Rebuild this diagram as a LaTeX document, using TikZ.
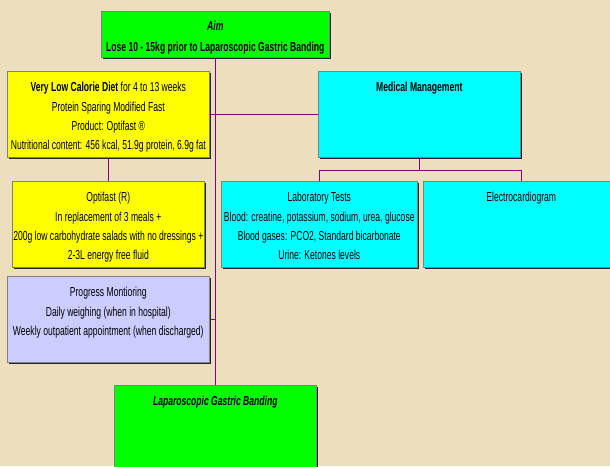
\documentclass[tikz,border=0pt]{standalone}
\usepackage{fontspec}
\setmainfont{Liberation Sans}[FakeStretch=0.66]
\usetikzlibrary{positioning,calc,shadows}
\definecolor{parchment}{RGB}{237,222,190}
\definecolor{aimgreen}{RGB}{0,255,0}
\definecolor{dietyellow}{RGB}{255,255,0}
\definecolor{medcyan}{RGB}{0,255,255}
\definecolor{lavender}{RGB}{204,204,255}
\definecolor{linkpurple}{RGB}{128,0,128}
\tikzset{>=latex}
% box text: width, height, lines (first baseline 20.5pt below the top)
\newcommand{\cardtext}[3]{\parbox[t][#2][t]{#1}{\centering\fontsize{13}{19.2}\selectfont\rule{0pt}{20.5pt}#3\par}}

\begin{document}
\begin{tikzpicture}[x=1pt, y=-1pt,
    card/.style={draw=gray, line width=0.6pt, inner sep=0pt, anchor=north west, fill=#1,
        drop shadow={shadow xshift=2pt, shadow yshift=-2pt, opacity=1, fill=black!85}},
    link/.style={draw=linkpurple, line width=1pt}]

    % background
    \fill[parchment] (0,0) rectangle (610,466);
    \clip (0,0) rectangle (610,466);

    % Aim
    \node[card=aimgreen] (aim) at (101,11) {\parbox[t][46pt][t]{228pt}{\centering\fontsize{13}{21}\selectfont\rule{0pt}{19pt}\textbf{\textit{Aim}}\\\textbf{Lose 10 - 15kg prior to Laparoscopic Gastric Banding}\par}};

    % Diet
    \node[card=dietyellow] (diet) at (7,71) {\cardtext{202pt}{86pt}{\textbf{Very Low Calorie Diet} for 4 to 13 weeks\\Protein Sparing Modified Fast\\Product: Optifast \textregistered\\Nutritional content: 456 kcal, 51.9g protein, 6.9g fat}};
    \node[card=dietyellow] (optifast) at (12,181) {\cardtext{192pt}{86pt}{Optifast (R)\\In replacement of 3 meals +\\200g low carbohydrate salads with no dressings +\\2-3L energy free fluid}};
    \node[card=lavender] (progress) at (7,276) {\cardtext{202pt}{86pt}{Progress Montioring\\Daily weighing (when in hospital)\\Weekly outpatient appointment (when discharged)}};

    % Medical management
    \node[card=medcyan] (medical) at (318,71) {\cardtext{202pt}{86pt}{\textbf{Medical Management}}};
    \node[card=medcyan] (lab) at (221,181) {\cardtext{196pt}{86pt}{Laboratory Tests\\Blood: creatine, potassium, sodium, urea, glucose\\Blood gases: PCO2, Standard bicarbonate\\Urine: Ketones levels}};
    \node[card=medcyan] (ecg) at (423,181) {\cardtext{196pt}{86pt}{Electrocardiogram}};

    % Banding
    \node[card=aimgreen] (banding) at (114,385) {\cardtext{202pt}{90pt}{\textbf{\textit{Laparoscopic Gastric Banding}}}};

    % connectors
    \draw[link] (aim.south) -- (banding.north);
    \draw[link] (diet.east) -- (medical.west);
    \draw[link] (diet.south) -- (optifast.north);
    \draw[link] (progress.east) -- (progress.east -| aim.south);
    \coordinate (fork) at ($(medical.south)+(0,13)$);
    \draw[link] (medical.south) -- (fork);
    \draw[link] (lab.north) |- (fork) -| (ecg.north);
\end{tikzpicture}
\end{document}
